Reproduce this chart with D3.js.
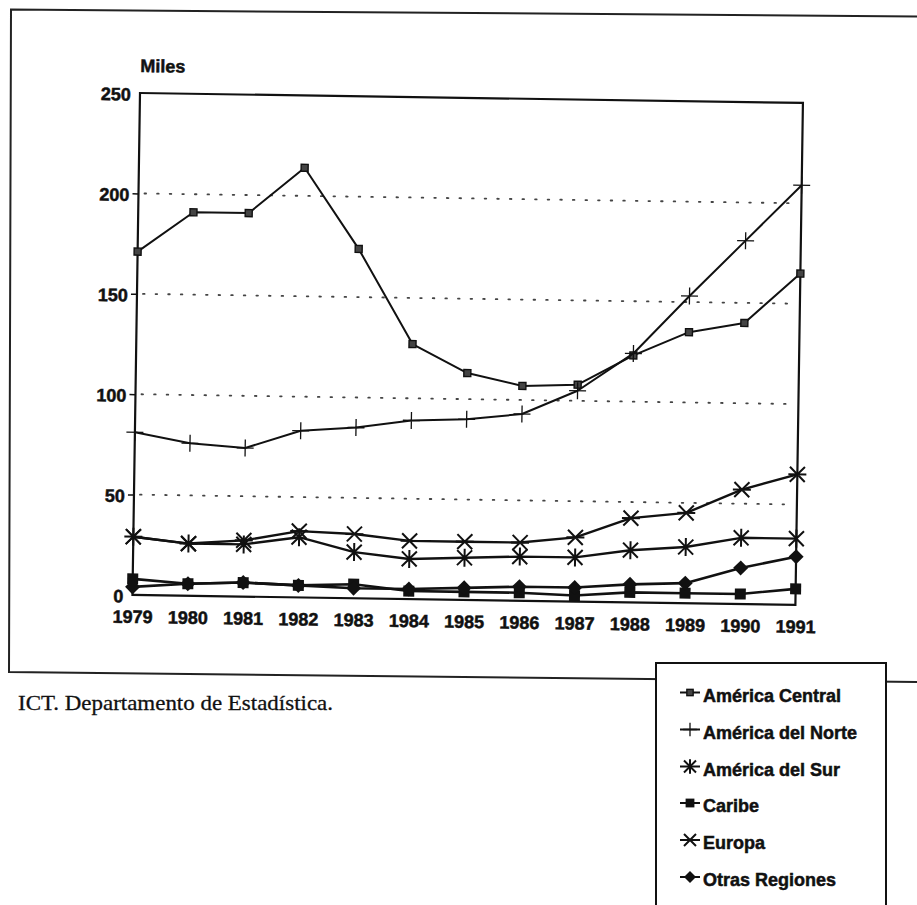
<!DOCTYPE html>
<html>
<head>
<meta charset="utf-8">
<script src="https://cdn.jsdelivr.net/npm/d3@7"></script>
<style>
  html, body { margin: 0; padding: 0; background: #fff; }
  svg { display: block; }
  text { font-family: "Liberation Sans", Arial, sans-serif; font-weight: bold; fill: #111; }
</style>
</head>
<body>
<svg id="chart" width="917" height="905"></svg>
<script>
// ---- data (thousands of visitors) ----
const years = [1979, 1980, 1981, 1982, 1983, 1984, 1985, 1986, 1987, 1988, 1989, 1990, 1991];
const americaCentral = [171, 191, 191, 214, 174, 127, 113, 107, 108, 123, 135, 140, 165];
const americaNorte   = [81, 76, 74, 83, 85, 89, 90, 93, 105, 124, 153, 181, 209];
const americaSur     = [29, 26, 26, 30, 23, 20, 21, 22, 22, 26, 28, 33, 33];
const caribe         = [8, 6, 7, 6, 7, 4, 4, 4, 3, 5, 5, 5, 8];
const europa         = [29, 26, 28, 33, 32, 29, 29, 29, 32, 42, 45, 57, 65];
const otrasRegiones  = [4, 6, 7, 6, 5, 5, 6, 7, 7, 9, 10, 18, 24];
const yTicks = [0, 50, 100, 150, 200, 250];
const gridTicks = [50, 100, 150, 200];
const seriesNames = ["América Central", "América del Norte", "América del Sur", "Caribe", "Europa", "Otras Regiones"];
const yAxisTitle = "Miles";
const sourceNote = "ICT. Departamento de Estadística.";

const series = [
  { name: seriesNames[0], values: americaCentral, marker: "smallSquare", width: 2 },
  { name: seriesNames[1], values: americaNorte,   marker: "plus",        width: 2 },
  { name: seriesNames[2], values: americaSur,     marker: "asterisk",    width: 2.4 },
  { name: seriesNames[3], values: caribe,         marker: "square",      width: 2.6 },
  { name: seriesNames[4], values: europa,         marker: "xbar",        width: 2.4 },
  { name: seriesNames[5], values: otrasRegiones,  marker: "diamond",     width: 2.6 }
];

const svg = d3.select("#chart");

// scanned outer frame (slightly skewed)
svg.append("path")
  .attr("d", "M917,16.5 L11,9.5 L9,672 L917,682")
  .attr("fill", "none").attr("stroke", "#222").attr("stroke-width", 2);

// plot geometry
const pLeft = 140, pTop = 93, pRight = 803, pBottom = 595;
const x = d3.scaleLinear().domain([years[0], years[years.length - 1]]).range([pLeft, pRight]);
const y = d3.scaleLinear().domain([0, 250]).range([pBottom, pTop]);

// whole chart is slightly rotated, as in the scan
const g = svg.append("g").attr("transform", `rotate(0.86, ${pLeft}, ${pTop})`);

// dotted grid
g.append("g").selectAll("line").data(gridTicks).join("line")
  .attr("x1", pLeft + 6).attr("x2", pRight - 4)
  .attr("y1", d => y(d)).attr("y2", d => y(d))
  .attr("stroke", "#444").attr("stroke-width", 1.8)
  .attr("stroke-dasharray", "1.6 11").attr("stroke-linecap", "round");

// plot frame
g.append("rect")
  .attr("x", pLeft).attr("y", pTop).attr("width", pRight - pLeft).attr("height", pBottom - pTop)
  .attr("fill", "none").attr("stroke", "#111").attr("stroke-width", 2.2);

const textInk = sel => sel.attr("stroke", "#111").attr("stroke-width", 0.5);

// y axis
const yAxis = g.append("g").attr("transform", `translate(${pLeft},0)`)
  .call(d3.axisLeft(y).tickValues(yTicks).tickSize(6).tickPadding(3));
yAxis.select(".domain").remove();
yAxis.selectAll("line").attr("stroke", "#111").attr("stroke-width", 1.5);
yAxis.selectAll("text").attr("font-size", 18).attr("font-family", "Liberation Sans, Arial, sans-serif")
  .attr("font-weight", "bold").attr("fill", "#111").attr("dy", "0.4em").call(textInk);
yAxis.selectAll(".tick").filter(d => d === 0 || d === 250).select("line").remove();

// x axis
const xAxis = g.append("g").attr("transform", `translate(0,${pBottom})`)
  .call(d3.axisBottom(x).tickValues(years).tickFormat(d3.format("d")).tickSize(0));
xAxis.select(".domain").remove();
xAxis.selectAll("text").attr("y", 28).attr("dy", null).attr("font-size", 18)
  .attr("font-family", "Liberation Sans, Arial, sans-serif").attr("font-weight", "bold").attr("fill", "#111")
  .call(textInk);

// y title
g.append("text").attr("x", pLeft).attr("y", pTop - 21).attr("font-size", 18).text(yAxisTitle).call(textInk);

// marker drawing
function drawMarker(sel, type, s) {
  if (type === "smallSquare") {
    sel.append("rect").attr("x", -3.5 * s).attr("y", -3.5 * s).attr("width", 7 * s).attr("height", 7 * s)
      .attr("fill", "#444").attr("stroke", "#111").attr("stroke-width", 1.4);
  } else if (type === "square") {
    sel.append("rect").attr("x", -5.5 * s).attr("y", -5.5 * s).attr("width", 11 * s).attr("height", 11 * s)
      .attr("fill", "#111");
  } else if (type === "diamond") {
    const r = 7.5 * s;
    sel.append("path").attr("d", `M0,${-r}L${r},0L0,${r}L${-r},0Z`).attr("fill", "#111");
  } else if (type === "plus") {
    const r = 8.5 * s;
    sel.append("path").attr("d", `M${-r},0H${r}M0,${-r}V${r}`)
      .attr("stroke", "#111").attr("stroke-width", 1.3).attr("fill", "none");
  } else if (type === "asterisk") {
    const r = 7.5 * s;
    sel.append("path").attr("d", `M${-r},${-r}L${r},${r}M${-r},${r}L${r},${-r}M0,${-r * 1.2}V${r * 1.2}`)
      .attr("stroke", "#111").attr("stroke-width", 2).attr("fill", "none");
  } else if (type === "xbar") {
    const r = 7.5 * s;
    sel.append("path").attr("d", `M${-r},${-r}L${r},${r}M${-r},${r}L${r},${-r}M${-r * 1.2},0H${r * 1.2}`)
      .attr("stroke", "#111").attr("stroke-width", 2).attr("fill", "none");
  }
}

const line = d3.line().x((d, i) => x(years[i])).y(d => y(d));

series.forEach(s => {
  g.append("path").datum(s.values)
    .attr("d", line).attr("fill", "none").attr("stroke", "#111")
    .attr("stroke-width", s.width).attr("stroke-linejoin", "round");
  g.append("g").selectAll("g").data(s.values).join("g")
    .attr("transform", (d, i) => `translate(${x(years[i])},${y(d)})`)
    .each(function () { drawMarker(d3.select(this), s.marker, 1); });
});

// source note
svg.append("text").attr("x", 18).attr("y", 710)
  .style("font-family", "'Liberation Serif', 'Times New Roman', serif").style("font-weight", "normal")
  .attr("font-size", 22).attr("textLength", 315).attr("lengthAdjust", "spacingAndGlyphs")
  .attr("stroke", "#111").attr("stroke-width", 0.3)
  .text(sourceNote);

// legend
const legend = svg.append("g");
legend.append("rect").attr("x", 656).attr("y", 663).attr("width", 230).attr("height", 260)
  .attr("fill", "#fff").attr("stroke", "#111").attr("stroke-width", 2);
const rowBase = [701.5, 738.5, 775.5, 812, 849, 886];
series.forEach((s, i) => {
  const row = legend.append("g").attr("transform", `translate(690,${rowBase[i] - 9})`);
  row.append("line").attr("x1", -10).attr("x2", 10).attr("stroke", "#111").attr("stroke-width", 2);
  const m = row.append("g");
  drawMarker(m, s.marker, s.marker === "smallSquare" ? 0.9 : 0.8);
  legend.append("text").attr("x", 703).attr("y", rowBase[i]).attr("font-size", 18).text(s.name).call(textInk);
});
</script>
</body>
</html>
